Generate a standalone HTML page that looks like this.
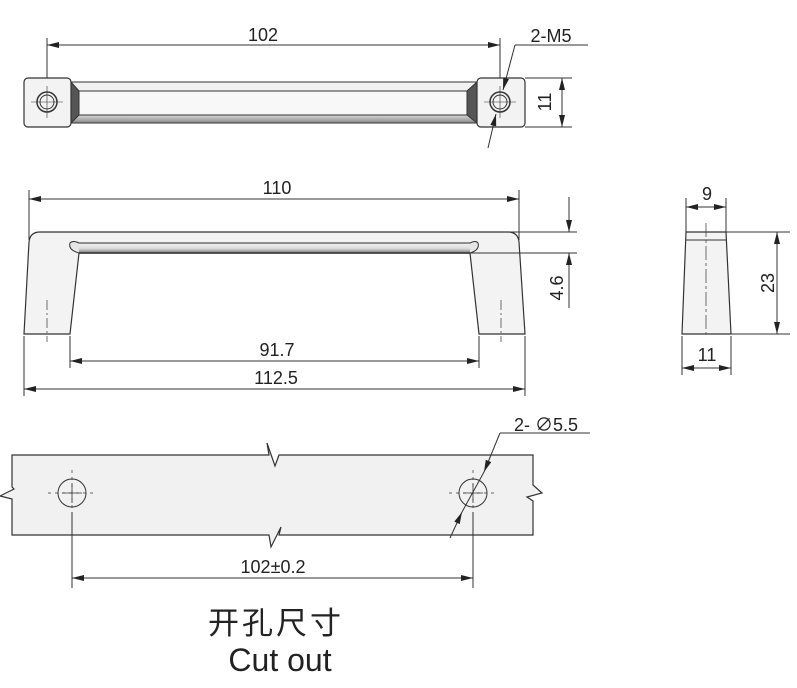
<!DOCTYPE html>
<html><head><meta charset="utf-8"><style>
html,body{margin:0;padding:0;background:#fff;}
svg{display:block;}
text{font-family:"Liberation Sans","Noto Sans CJK SC",sans-serif;fill:#222;}
</style></head><body>
<svg width="797" height="688" viewBox="0 0 797 688" xmlns="http://www.w3.org/2000/svg">
<defs>
<marker id="a" viewBox="0 0 12 6" refX="12" refY="3" markerWidth="12" markerHeight="6" orient="auto-start-reverse" markerUnits="userSpaceOnUse"><path d="M0,0 L12,3 L0,6 z" fill="#222"/></marker>
<linearGradient id="bar" x1="0" y1="0" x2="0" y2="1"><stop offset="0" stop-color="#eee"/><stop offset="0.5" stop-color="#ddd"/><stop offset="1" stop-color="#777"/></linearGradient>
<linearGradient id="tb" x1="0" y1="0" x2="0" y2="1"><stop offset="0" stop-color="#f3f3f3"/><stop offset="0.75" stop-color="#eee"/><stop offset="1" stop-color="#888"/></linearGradient>
</defs>
<g stroke="#333" stroke-width="1" fill="none">
<!-- TOP VIEW -->
<line x1="47" y1="38" x2="47" y2="100"/>
<line x1="500" y1="38" x2="500" y2="100"/>
<line x1="47" y1="45" x2="500" y2="45" marker-start="url(#a)" marker-end="url(#a)"/>
<rect x="71" y="82" width="406" height="41" fill="url(#tb)"/>
<rect x="79" y="91" width="388" height="24" fill="#f8f8f8"/>
<path d="M71,82 L79,91 L79,115 L71,123 Z" fill="#555"/>
<path d="M477,82 L467,91 L467,115 L477,123 Z" fill="#555"/>
<rect x="24" y="78" width="47" height="49" rx="4" fill="#f3f3f3" stroke-width="1.2"/>
<rect x="477" y="78" width="48" height="49" rx="4" fill="#f3f3f3" stroke-width="1.2"/>
<circle cx="47" cy="102" r="10" stroke-width="1.5"/><circle cx="47" cy="102" r="7"/>
<circle cx="500" cy="102" r="10" stroke-width="1.5"/><circle cx="500" cy="102" r="7"/>
<path d="M31,102 H63 M47,86 V118 M484,102 H516 M500,86 V118" stroke-width="0.6"/>
<line x1="525" y1="78" x2="572" y2="78"/><line x1="525" y1="127" x2="572" y2="127"/>
<line x1="562" y1="78" x2="562" y2="127" marker-start="url(#a)" marker-end="url(#a)"/>
<line x1="515" y1="45" x2="588" y2="45"/>
<line x1="515" y1="45" x2="503" y2="90" marker-end="url(#a)"/>
<line x1="488" y1="148" x2="496" y2="114" marker-end="url(#a)"/>
<!-- FRONT VIEW -->
<line x1="29" y1="190" x2="29" y2="240"/><line x1="519" y1="190" x2="519" y2="240"/>
<line x1="29" y1="199" x2="519" y2="199" marker-start="url(#a)" marker-end="url(#a)"/>
<path d="M24,334 L29,242 Q30,232 40,232 L508,232 Q518,232 519,242 L525,334 L479,334 L470,253 L79,253 L70,334 Z" fill="#f3f3f3" stroke-width="1.2"/>
<path d="M79,253 Q68,250 70,243 Q73,240 79,243 L470,243 Q476,240 478,243 Q480,250 470,253" fill="#e6e6e6"/>
<rect x="79" y="244" width="391" height="9" fill="url(#bar)" stroke="none"/>
<line x1="79" y1="253" x2="470" y2="253" stroke-width="1.5"/>
<path d="M47,300 V342 M501,300 V342" stroke-dasharray="10,3,2,3" stroke-width="0.7"/>
<line x1="408" y1="232" x2="577" y2="232"/><line x1="470" y1="253" x2="577" y2="253"/>
<line x1="569" y1="197" x2="569" y2="232" marker-end="url(#a)"/>
<line x1="569" y1="308" x2="569" y2="253" marker-end="url(#a)"/>
<line x1="70" y1="336" x2="70" y2="368"/><line x1="479" y1="336" x2="479" y2="368"/>
<line x1="70" y1="361" x2="479" y2="361" marker-start="url(#a)" marker-end="url(#a)"/>
<line x1="24" y1="336" x2="24" y2="396"/><line x1="525" y1="336" x2="525" y2="396"/>
<line x1="24" y1="389" x2="525" y2="389" marker-start="url(#a)" marker-end="url(#a)"/>
<!-- SIDE VIEW -->
<path d="M686,232 L726,232 L731,334 L682,334 Z" fill="#f3f3f3" stroke-width="1.2"/>
<line x1="686" y1="240" x2="726" y2="240"/>
<line x1="706" y1="223" x2="706" y2="334" stroke-dasharray="14,3,3,3" stroke-width="0.7"/>
<line x1="686" y1="198" x2="686" y2="232"/><line x1="726" y1="198" x2="726" y2="232"/>
<line x1="686" y1="207" x2="706" y2="207" marker-start="url(#a)"/>
<line x1="706" y1="207" x2="726" y2="207" marker-end="url(#a)"/>
<line x1="726" y1="232" x2="790" y2="232"/><line x1="731" y1="334" x2="790" y2="334"/>
<line x1="777" y1="232" x2="777" y2="334" marker-start="url(#a)" marker-end="url(#a)"/>
<line x1="682" y1="336" x2="682" y2="375"/><line x1="731" y1="336" x2="731" y2="375"/>
<line x1="682" y1="368" x2="706" y2="368" marker-start="url(#a)"/>
<line x1="706" y1="368" x2="731" y2="368" marker-end="url(#a)"/>
<!-- CUTOUT -->
<path d="M12,455 L269,455 L267,443 L275,466 L279,455 L533,455 L533,485 L542,493 L527,497 L533,501 L533,535 L279,535 L281,527 L271,547 L269,535 L12,535 L12,499 L0,496 L14,489 L12,487 Z" fill="#f1f1f1" stroke-width="1.2"/>
<circle cx="72" cy="493" r="14"/><circle cx="473" cy="493" r="14"/>
<path d="M62,493 H82 M72,483 V503 M463,493 H483 M473,483 V503" stroke-width="0.8"/>
<path d="M48,493 H96 M72,470 V512 M449,493 H497 M473,470 V512" stroke-dasharray="3,4" stroke-width="0.7"/>
<line x1="72" y1="512" x2="72" y2="588"/><line x1="473" y1="512" x2="473" y2="588"/>
<line x1="72" y1="578" x2="473" y2="578" marker-start="url(#a)" marker-end="url(#a)"/>
<line x1="500" y1="433" x2="590" y2="433"/>
<line x1="500" y1="433" x2="484" y2="472" marker-end="url(#a)"/>
<line x1="450" y1="538" x2="462" y2="512" marker-end="url(#a)"/>
<line x1="484" y1="472" x2="462" y2="512"/>
</g>
<g font-size="18">
<text x="263" y="41" text-anchor="middle">102</text>
<text x="551" y="42" text-anchor="middle">2-M5</text>
<text transform="translate(551,102) rotate(-90)" text-anchor="middle">11</text>
<text x="277" y="194" text-anchor="middle">110</text>
<text transform="translate(563,288) rotate(-90)" text-anchor="middle">4.6</text>
<text x="277" y="356" text-anchor="middle">91.7</text>
<text x="276" y="384" text-anchor="middle">112.5</text>
<text x="707" y="200" text-anchor="middle">9</text>
<text transform="translate(774,283) rotate(-90)" text-anchor="middle">23</text>
<text x="707" y="361" text-anchor="middle">11</text>
<text x="546" y="431" text-anchor="middle">2- ∅5.5</text>
<text x="273" y="573" text-anchor="middle">102±0.2</text>
</g>
<text x="276" y="634" font-size="31" letter-spacing="3" text-anchor="middle">开孔尺寸</text>
<text x="280" y="671" font-size="32" text-anchor="middle">Cut out</text>
</svg>
</body></html>
